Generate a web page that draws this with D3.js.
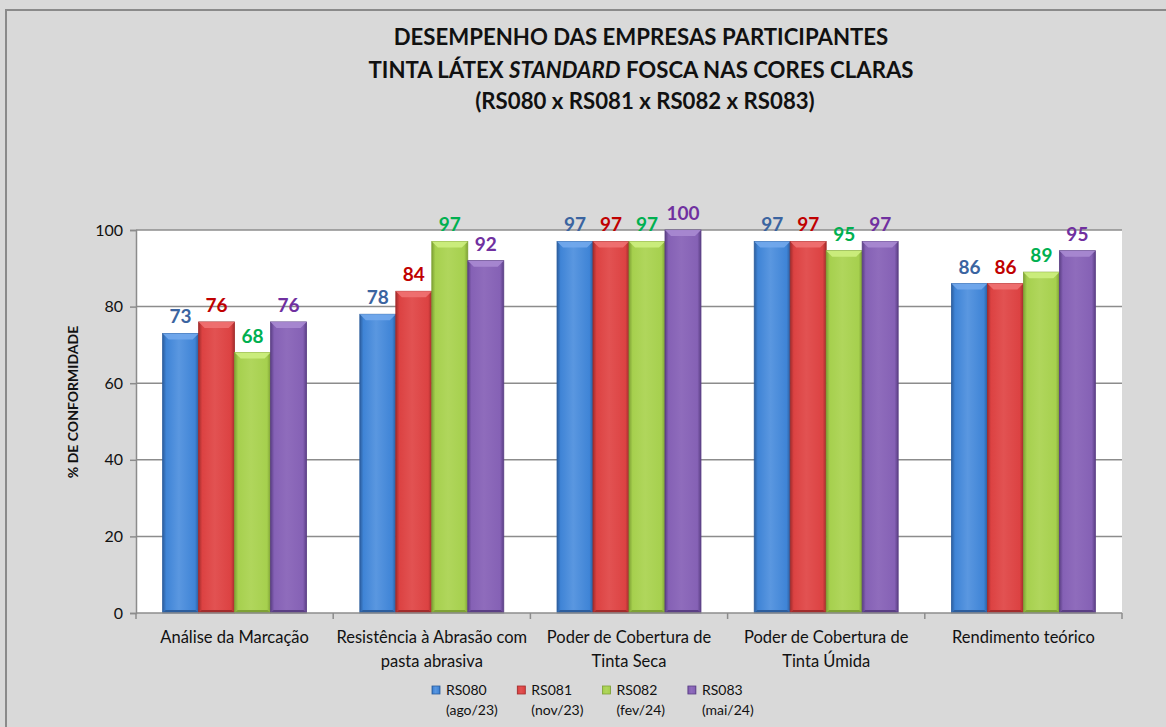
<!DOCTYPE html>
<html>
<head>
<meta charset="utf-8">
<script src="https://cdn.jsdelivr.net/npm/d3@7"></script>
<style>
  html, body { margin: 0; padding: 0; background: #d9d9d9; }
  svg { display: block; font-family: Lato, "Open Sans", sans-serif; }
</style>
</head>
<body>
<svg id="chart" width="1166" height="727"></svg>
<script>
// data
const categories = [
  'Análise da Marcação',
  'Resistência à Abrasão com\npasta abrasiva',
  'Poder de Cobertura de\nTinta Seca',
  'Poder de Cobertura de\nTinta Úmida',
  'Rendimento teórico'
]
const seriesNames = ['RS080', 'RS081', 'RS082', 'RS083']
const seriesDates = ['(ago/23)', '(nov/23)', '(fev/24)', '(mai/24)']
const rs080 = [73, 78, 97, 97, 86]
const rs081 = [76, 84, 97, 97, 86]
const rs082 = [68, 97, 97, 94.6, 89]
const rs083 = [76, 92, 100, 97, 94.6]
const yTicks = [0, 20, 40, 60, 80, 100]
const titleLines = ['DESEMPENHO DAS EMPRESAS PARTICIPANTES', null, '(RS080 x RS081 x RS082 x RS083)']

const allSeries = [rs080, rs081, rs082, rs083]

// look
const fills = [
  {edge: '#2c5e9e', mid: '#3f84d6', light: '#5a97e0', top: '#72a9ec', label: '#3b64a0'},
  {edge: '#a32c2c', mid: '#dc4242', light: '#e25252', top: '#ef7272', label: '#c00000'},
  {edge: '#7fa235', mid: '#a6d04e', light: '#b0d65c', top: '#cdee80', label: '#00b050'},
  {edge: '#5b3f85', mid: '#8561b5', light: '#8f6cbc', top: '#a98ad2', label: '#7030a0'}
]

const pLeft = 136, pRight = 1122, pTop = 230, pBottom = 613

const svg = d3.select('#chart')

// gradients for the bevelled bars
const defs = svg.append('defs')
fills.forEach((f, i) => {
  const g = defs.append('linearGradient').attr('id', 'grad' + i)
    .attr('x1', 0).attr('x2', 1).attr('y1', 0).attr('y2', 0)
  g.append('stop').attr('offset', '0%').attr('stop-color', f.edge)
  g.append('stop').attr('offset', '10%').attr('stop-color', f.mid)
  g.append('stop').attr('offset', '45%').attr('stop-color', f.light)
  g.append('stop').attr('offset', '90%').attr('stop-color', f.mid)
  g.append('stop').attr('offset', '100%').attr('stop-color', f.edge)
})

// frame
svg.append('path')
  .attr('d', 'M6,727 L6,10 L1166,10')
  .attr('fill', 'none').attr('stroke', '#8a8a8a').attr('stroke-width', 2)

// plot area
svg.append('rect')
  .attr('x', pLeft).attr('y', pTop)
  .attr('width', pRight - pLeft).attr('height', pBottom - pTop)
  .attr('fill', 'white')

const x0 = d3.scaleBand().domain(d3.range(categories.length)).range([pLeft, pRight]).paddingInner(0.27).paddingOuter(0.135)
const x1 = d3.scaleBand().domain(d3.range(seriesNames.length)).range([0, x0.bandwidth()])
const y = d3.scaleLinear().domain([0, 100]).range([pBottom, pTop])

// grid + y axis
const yAxis = svg.append('g')
  .attr('transform', `translate(${pLeft},0)`)
  .call(d3.axisLeft(y).tickValues(yTicks).tickSize(6).tickPadding(7))
yAxis.select('.domain').attr('stroke', '#8c8c8c').attr('stroke-width', 1.5)
yAxis.selectAll('.tick line').attr('stroke', '#8c8c8c').attr('stroke-width', 1.5)
yAxis.selectAll('.tick text').attr('font-size', 16).attr('fill', '#111')
  .style('font-family', 'Lato, sans-serif')

svg.append('g').selectAll('line')
  .data(yTicks.filter(d => d > 0))
  .join('line')
  .attr('x1', pLeft).attr('x2', pRight)
  .attr('y1', d => y(d)).attr('y2', d => y(d))
  .attr('stroke', '#8c8c8c').attr('stroke-width', 1.5)

// bars
const groups = svg.append('g').selectAll('g')
  .data(categories)
  .join('g')
  .attr('transform', (d, i) => `translate(${x0(i)},0)`)

groups.each(function (cat, ci) {
  const g = d3.select(this)
  allSeries.forEach((vals, si) => {
    const v = vals[ci]
    const bx = x1(si), bw = x1.bandwidth()
    const by = y(v), bh = pBottom - y(v)
    const f = fills[si]
    const bev = 6
    g.append('rect')
      .attr('x', bx).attr('y', by).attr('width', bw).attr('height', bh)
      .attr('fill', 'url(#grad' + si + ')')
      .attr('stroke', f.edge).attr('stroke-width', 0.8)
    // top bevel
    g.append('path')
      .attr('d', `M${bx},${by} L${bx + bw},${by} L${bx + bw - bev},${by + bev} L${bx + bev},${by + bev} Z`)
      .attr('fill', f.top).attr('opacity', 0.9)
    // bottom shade
    g.append('path')
      .attr('d', `M${bx},${pBottom} L${bx + bw},${pBottom} L${bx + bw - 3},${pBottom - 3} L${bx + 3},${pBottom - 3} Z`)
      .attr('fill', f.edge)
    // value label
    g.append('text')
      .attr('x', bx + bw / 2).attr('y', by - 10)
      .attr('text-anchor', 'middle')
      .attr('font-size', 19).attr('font-weight', 'bold')
      .attr('fill', f.label)
      .text(d3.format('.0f')(v))
  })
})

// x axis line + ticks at band edges
svg.append('line')
  .attr('x1', pLeft).attr('x2', pRight).attr('y1', pBottom).attr('y2', pBottom)
  .attr('stroke', '#8c8c8c').attr('stroke-width', 1.5)
const step = x0.step()
svg.append('g').selectAll('line')
  .data(d3.range(categories.length + 1))
  .join('line')
  .attr('x1', i => pLeft + i * step).attr('x2', i => pLeft + i * step)
  .attr('y1', pBottom).attr('y2', pBottom + 6)
  .attr('stroke', '#8c8c8c').attr('stroke-width', 1.5)

// category labels
svg.append('g').selectAll('text')
  .data(categories)
  .join('text')
  .attr('x', (d, i) => x0(i) + x0.bandwidth() / 2)
  .attr('y', 643)
  .attr('text-anchor', 'middle')
  .attr('font-size', 16.5).attr('fill', '#111')
  .each(function (d) {
    d.split('\n').forEach((line, k) => {
      d3.select(this).append('tspan')
        .attr('x', d3.select(this).attr('x'))
        .attr('dy', k === 0 ? 0 : 24)
        .text(line)
    })
  })

// y title
svg.append('text')
  .attr('transform', 'translate(78,402) rotate(-90)')
  .attr('text-anchor', 'middle')
  .attr('font-size', 14).attr('font-weight', 'bold').attr('fill', '#111')
  .text('% DE CONFORMIDADE')

// title
const title = svg.append('g').attr('font-weight', 'bold').attr('font-size', 22.2).attr('fill', '#111')
  .attr('text-anchor', 'middle')
title.append('text').attr('x', 641).attr('y', 45).text(titleLines[0])
const t2 = title.append('text').attr('x', 641).attr('y', 78)
t2.append('tspan').text('TINTA LÁTEX ')
t2.append('tspan').attr('font-style', 'italic').text('STANDARD')
t2.append('tspan').text(' FOSCA NAS CORES CLARAS')
title.append('text').attr('x', 645).attr('y', 109).text(titleLines[2])

// legend
const legend = svg.append('g').selectAll('g')
  .data(seriesNames)
  .join('g')
  .attr('transform', (d, i) => `translate(${432 + i * 85.3},0)`)
legend.append('rect')
  .attr('x', 0).attr('y', 686).attr('width', 8).attr('height', 8)
  .attr('fill', (d, i) => `url(#grad${i})`)
  .attr('stroke', (d, i) => fills[i].edge).attr('stroke-width', 0.8)
legend.append('text')
  .attr('x', 14).attr('y', 695)
  .attr('font-size', 14).attr('fill', '#111')
  .text(d => d)
legend.append('text')
  .attr('x', 14).attr('y', 715)
  .attr('font-size', 14).attr('fill', '#111')
  .text((d, i) => seriesDates[i])
</script>
</body>
</html>
